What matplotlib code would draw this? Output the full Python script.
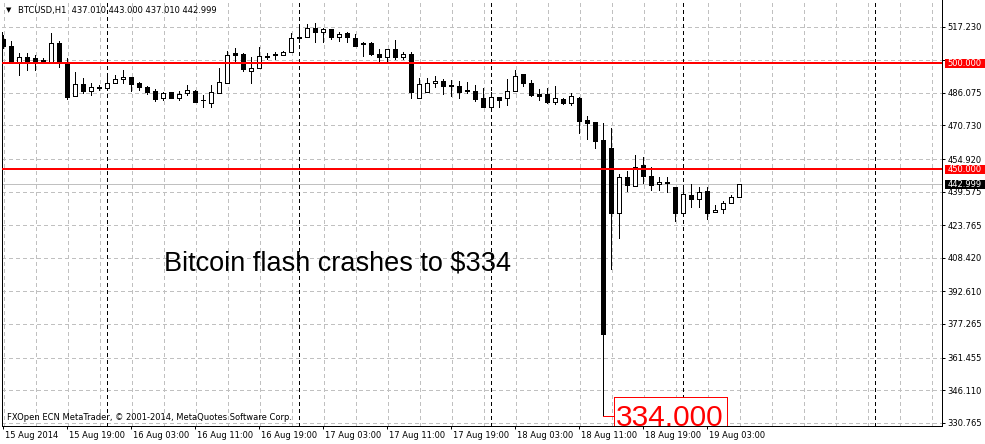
import matplotlib
matplotlib.use("Agg")
import matplotlib.pyplot as plt
from matplotlib.patches import Rectangle
from matplotlib.transforms import IdentityTransform, blended_transform_factory, offset_copy

# BTCUSD H1 bars, 15 Aug 2014 11:00 -> 19 Aug 2014 07:00
opens = [511.3, 508.1, 500.3, 502.8, 502.3, 501.5, 500.7, 509.7, 500.7, 484.7,
         490.1, 487.1, 489.0, 488.2, 490.9, 492.5, 493.4, 490.9, 488.7, 487.1,
         483.5, 486.3, 483.5, 485.9, 487.1, 482.7, 481.4, 486.1, 490.9, 504.7,
         504.4, 496.5, 497.9, 503.4, 504.2, 503.9, 505.5, 512.5, 512.2, 516.5,
         514.6, 516.0, 512.2, 514.4, 511.8, 509.4, 509.7, 504.4, 503.1, 506.7,
         502.8, 504.4, 483.5, 486.6, 490.6, 491.8, 489.8, 489.3, 487.2, 487.1,
         483.5, 479.6, 484.0, 483.5, 487.1, 494.9, 490.6, 485.5, 485.5, 481.9,
         483.0, 481.4, 483.5, 473.3, 472.2, 463.9, 460.0, 429.4, 446.6, 442.4,
         452.1, 447.1, 443.0, 444.0, 441.6, 429.6, 438.0, 436.0, 439.9, 429.8,
         431.6, 434.1, 437.01]
highs = [513.3, 510.6, 505.0, 504.7, 503.9, 502.3, 514.1, 510.6, 502.3, 496.0,
         492.9, 490.6, 489.8, 495.0, 494.5, 496.8, 493.7, 491.3, 489.3, 487.7,
         486.6, 486.3, 487.1, 489.8, 487.4, 485.1, 489.8, 497.6, 505.9, 507.1,
         504.7, 502.8, 507.8, 505.0, 505.5, 505.9, 514.1, 517.2, 518.5, 518.8,
         516.5, 516.0, 514.9, 514.9, 513.8, 510.2, 510.2, 506.6, 506.6, 511.0,
         505.5, 505.5, 492.9, 492.9, 494.0, 492.5, 492.1, 491.7, 491.3, 489.8,
         488.2, 486.6, 484.0, 492.5, 496.8, 494.9, 492.1, 487.7, 488.2, 489.3,
         483.5, 485.9, 484.3, 475.2, 472.2, 472.0, 469.7, 447.7, 449.4, 456.8,
         456.0, 451.0, 446.3, 446.6, 441.6, 441.6, 443.2, 441.6, 441.6, 433.3,
         435.3, 438.0, 443.0]
lows = [507.2, 500.0, 494.5, 496.8, 496.8, 500.3, 500.6, 498.4, 483.0, 484.6,
        485.9, 485.1, 487.4, 487.4, 490.6, 490.6, 487.1, 487.4, 485.5, 482.4,
        482.7, 483.5, 482.7, 485.1, 481.9, 479.6, 479.6, 486.1, 490.9, 500.8,
        496.5, 490.9, 497.9, 501.9, 501.9, 503.9, 505.5, 510.2, 512.2, 510.2,
        510.2, 511.3, 510.6, 510.2, 508.3, 503.6, 503.9, 500.7, 500.7, 501.9,
        501.9, 483.5, 483.5, 486.6, 488.7, 485.5, 484.6, 483.5, 485.9, 482.4,
        479.6, 479.6, 479.6, 480.4, 487.1, 489.4, 484.7, 482.7, 481.4, 480.8,
        480.8, 480.4, 467.0, 464.2, 460.1, 334.0, 403.0, 417.5, 440.0, 442.4,
        443.8, 440.3, 440.3, 439.5, 425.9, 429.6, 432.5, 432.5, 426.7, 429.8,
        429.6, 434.1, 437.01]
closes = [508.1, 500.3, 503.1, 501.2, 500.7, 500.6, 509.4, 501.1, 484.3, 490.1,
          487.0, 488.7, 488.2, 490.9, 492.6, 493.4, 490.1, 488.7, 486.6, 483.2,
          486.1, 483.5, 485.4, 487.4, 481.9, 482.5, 486.6, 491.3, 503.9, 503.9,
          497.2, 497.6, 503.4, 502.8, 503.8, 505.5, 511.8, 512.0, 516.5, 514.9,
          516.0, 512.2, 513.8, 512.2, 508.3, 508.9, 504.2, 503.1, 506.6, 502.8,
          504.4, 486.6, 490.1, 490.6, 491.8, 489.5, 489.3, 486.6, 487.0, 483.2,
          479.6, 484.0, 482.7, 487.1, 494.2, 490.6, 485.1, 484.7, 481.9, 483.5,
          481.4, 484.7, 473.0, 472.0, 463.5, 372.4, 429.4, 446.6, 442.7, 451.3,
          447.1, 442.7, 444.0, 443.5, 429.6, 438.3, 436.0, 439.2, 429.6, 430.9,
          434.1, 437.2, 442.999]

price_ticks = [517.230, 501.420, 486.075, 470.730, 454.920, 439.575, 423.765,
               408.420, 392.610, 377.265, 361.455, 346.110, 330.765]
time_ticks = [0, 8, 16, 24, 32, 40, 48, 56, 64, 72, 80, 88]
time_labels = ["15 Aug 2014", "15 Aug 19:00", "16 Aug 03:00", "16 Aug 11:00",
               "16 Aug 19:00", "17 Aug 03:00", "17 Aug 11:00", "17 Aug 19:00",
               "18 Aug 03:00", "18 Aug 11:00", "18 Aug 19:00", "19 Aug 03:00"]
day_starts = [13, 37, 61, 85, 109]   # bars at 00:00
levels = [500.0, 450.0]
last_price = closes[-1]

W, H = 985, 444
fig = plt.figure(figsize=(W / 100, H / 100), dpi=100)
fig.patch.set_facecolor("white")
ax = fig.add_axes([2 / W, (H - 426) / H, 940 / W, 426 / H])
ax.set_xlim(-0.125, 117.375)
ax.set_ylim(329.21, 529.80)

px = 0.72  # one pixel in points
grid_kw = dict(color="#c0c0c0", lw=px, dashes=(3, 3), zorder=0, antialiased=False)
for p in price_ticks:
    ax.axhline(p, **grid_kw)
g = 0.125
while g < 117.375:
    ax.axvline(g, **grid_kw)
    g += 4
for d in day_starts:
    ax.axvline(d, color="black", lw=px, dashes=(3, 3), zorder=1, antialiased=False)

ax.axhline(last_price, color="#c0c0c0", lw=px, zorder=1, antialiased=False)

# candles
xs = list(range(len(opens)))
ax.vlines(xs, lows, highs, color="black", lw=px, zorder=2, antialiased=False)
for x, o, c in zip(xs, opens, closes):
    fc = "white" if c >= o else "black"
    ax.add_patch(Rectangle((x - 0.28, min(o, c)), 0.56, abs(c - o), fc=fc, ec="black",
                           lw=px, zorder=3, antialiased=False))

for lv in levels:
    ax.axhline(lv, color="#ff0000", lw=1.44, zorder=5, antialiased=False)

# low of the crash bar
ci = lows.index(min(lows))
low = lows[ci]
ax.plot([ci, ci + 1.4], [low, low], color="#ff0000", lw=px, zorder=4, antialiased=False)
ax.add_patch(Rectangle((ci + 1.4, low - 20), 14.1, 29.0, fc="white", ec="#ff0000",
                       lw=px, zorder=4, antialiased=False))
ax.text(ci + 1.56, 329.2, f"{low:.3f}", color="#ff0000", fontsize=21.5,
        family="Liberation Sans", ha="left", va="baseline", zorder=6, clip_on=True)

# axes frame
for s in ["top", "left"]:
    ax.spines[s].set_visible(False)
for s in ["right", "bottom"]:
    ax.spines[s].set_linewidth(px)
ax.plot([0, 0], [0, (426 - 32) / 426], transform=ax.transAxes, color="black",
        lw=px, clip_on=False, antialiased=False)

ax.yaxis.tick_right()
ax.set_yticks(price_ticks)
# the 501.420 label sits under the red 500.000 marker on the scale
ax.set_yticklabels(["" if abs(p - levels[0]) < 3 else f"{p:.3f}" for p in price_ticks])
ax.tick_params(axis="y", direction="out", length=2.5, width=px, pad=1.5, labelsize=6)
ax.set_xticks(time_ticks)
ax.set_xticklabels([])
ax.tick_params(axis="x", direction="out", length=2.5, width=px)
trans = offset_copy(blended_transform_factory(ax.transData, ax.transAxes), fig=fig,
                    x=2, y=-9, units="dots")
for t, lab in zip(time_ticks, time_labels):
    ax.text(t, 0, lab, transform=trans, fontsize=6, ha="left", va="center", clip_on=False)

# price boxes on the scale
def ypix(v):
    return ax.transData.transform((0, v))[1]

for v, bg in [(levels[0], "#ff0000"), (levels[1], "#ff0000"), (last_price, "black")]:
    yc = ypix(v)
    fig.add_artist(Rectangle((945, yc - 4.7), 40, 9.4, transform=IdentityTransform(),
                             fc=bg, ec="none", zorder=5))
    fig.text(947.5 / W, yc / H, f"{v:.3f}", color="white", fontsize=6,
             ha="left", va="center", zorder=6)

fig.text(6 / W, 1 - 10 / H, "\u25bc", fontsize=5, ha="left", va="center")
fig.text(18 / W, 1 - 10 / H, "BTCUSD,H1  437.010 443.000 437.010 442.999", fontsize=6,
         ha="left", va="center")
fig.text(7 / W, 1 - 417 / H, "FXOpen ECN MetaTrader, \u00a9 2001-2014, MetaQuotes Software Corp.",
         fontsize=6, ha="left", va="center")
fig.text(164 / W, 1 - 270.7 / H, "Bitcoin flash crashes to $334", fontsize=19.5,
         family="Liberation Sans", ha="left", va="baseline")

fig.savefig("out.png", dpi=100, facecolor="white")
